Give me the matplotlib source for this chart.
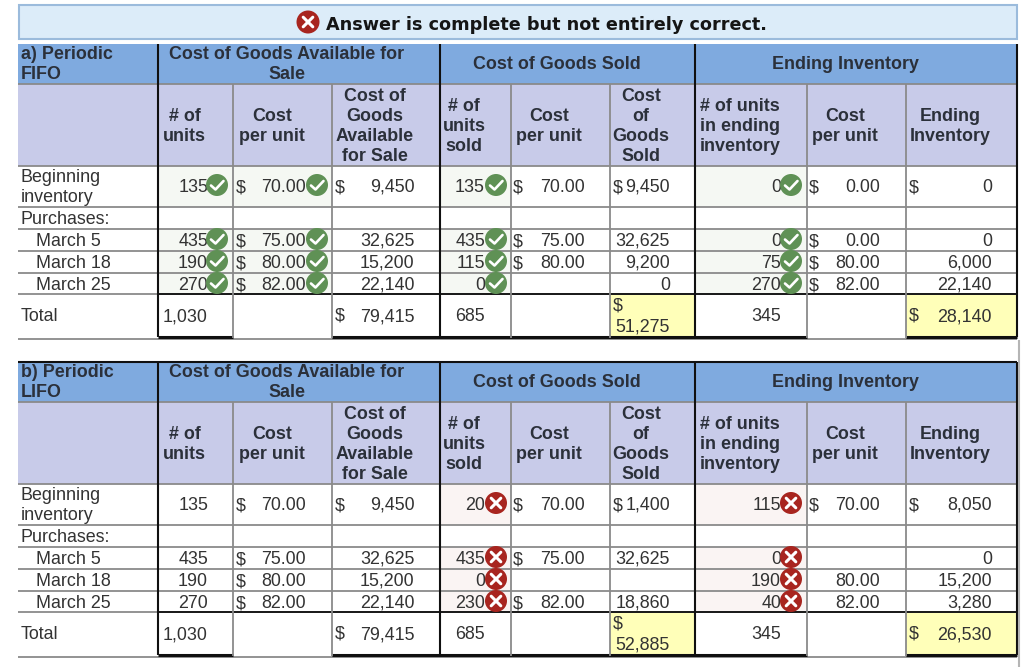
import matplotlib
matplotlib.use('Agg')
import matplotlib.pyplot as plt
from matplotlib.patches import Circle, Rectangle

plt.rcParams['font.family'] = ['Liberation Sans', 'DejaVu Sans']

# --- Data ---
banner_text = "Answer is complete but not entirely correct."
row_labels = ["Beginning\ninventory", "Purchases:", "March 5", "March 18", "March 25", "Total"]
group_heads = ["Cost of Goods Available for\nSale", "Cost of Goods Sold", "Ending Inventory"]
sub_heads = ["# of\nunits", "Cost\nper unit", "Cost of\nGoods\nAvailable\nfor Sale",
             "# of\nunits\nsold", "Cost\nper unit", "Cost\nof\nGoods\nSold",
             "# of units\nin ending\ninventory", "Cost\nper unit", "Ending\nInventory"]

units = ["135", "", "435", "190", "270", "1,030"]
cost_avail = ["$ 70.00", "", "$ 75.00", "$ 80.00", "$ 82.00", ""]
goods_avail = ["$ 9,450", "", "32,625", "15,200", "22,140", "$ 79,415"]

fifo_title = "a) Periodic\nFIFO"
fifo_sold = ["135", "", "435", "115", "0", "685"]
fifo_sold_cost = ["$ 70.00", "", "$ 75.00", "$ 80.00", "", ""]
fifo_cogs = ["$ 9,450", "", "32,625", "9,200", "0", "$\n51,275"]
fifo_end = ["0", "", "0", "75", "270", "345"]
fifo_end_cost = ["$ 0.00", "", "$ 0.00", "$ 80.00", "$ 82.00", ""]
fifo_end_inv = ["$ 0", "", "0", "6,000", "22,140", "$ 28,140"]

lifo_title = "b) Periodic\nLIFO"
lifo_sold = ["20", "", "435", "0", "230", "685"]
lifo_sold_cost = ["$ 70.00", "", "$ 75.00", "", "$ 82.00", ""]
lifo_cogs = ["$ 1,400", "", "32,625", "", "18,860", "$\n52,885"]
lifo_end = ["115", "", "0", "190", "40", "345"]
lifo_end_cost = ["$ 70.00", "", "", "80.00", "82.00", ""]
lifo_end_inv = ["$ 8,050", "", "0", "15,200", "3,280", "$ 26,530"]

# which rows of a column carry a check / cross icon
icon_rows = [0, 2, 3, 4]

# --- Layout (pixels of the screenshot) ---
col_x = [18, 158, 233, 332, 440, 511, 610, 695, 807, 906, 1017]
row_h = [44, 84, 166, 207, 229, 251, 273, 294, 337]
lifo_dy = 318
value_right = [208, 306, 414.5, 485, 585, 670, 781, 880, 992]
dollar_left = [None, 236, 335, None, 513, 613, None, 809, 909]
sub_x = [184.5, 272, 374.5, 464, 549, 641, 700, 845, 950]
group_x = [287, 557, 846]
row_text_y = [186, 218, 240, 262, 284, 315]

GREY = '#8a8a8a'
BLACK = '#101010'
TEXT = '#333333'
HEAD = '#2b303a'
BLUE = '#7faadf'
LILAC = '#c8cbe9'
YELLOW = '#ffffb9'
GREEN = '#5f9155'
GREEN_BG = '#f5f8f3'
RED = '#a8251f'
RED_BG = '#faf4f3'
FS = 12.9

fig = plt.figure(figsize=(10.24, 6.67), dpi=100)
ax = fig.add_axes([0, 0, 1, 1])
ax.set_xlim(0, 1024)
ax.set_ylim(667, 0)
ax.axis('off')


def put(x, y, s, ha='left', bold=False, color=TEXT, size=FS, zorder=5):
    # y is the middle of the first line, following lines step 20 px down
    for i, line in enumerate(s.split('\n')):
        ax.text(x, y + 6 + i * 20, line, ha=ha, va='baseline', fontsize=size, color=color,
                fontweight='bold' if bold else 'normal', zorder=zorder)


def fill(x0, x1, y0, y1, color):
    ax.add_patch(Rectangle((x0, y0), x1 - x0, y1 - y0, fc=color, ec='none', zorder=1))


def hline(x0, x1, y, color=GREY, lw=1.3):
    ax.plot([x0, x1], [y, y], color=color, lw=lw, zorder=3, solid_capstyle='butt')


def vline(x, y0, y1, color=GREY, lw=1.3):
    ax.plot([x, x], [y0, y1], color=color, lw=lw, zorder=3, solid_capstyle='butt')


def icon(x, y, ok, r=11):
    ax.add_patch(Circle((x, y), r, fc=GREEN if ok else RED, ec='none', zorder=6))
    if ok:
        ax.plot([x - 6, x - 1.5, x + 6.5], [y + 0.5, y + 4.5, y - 4],
                color='white', lw=1.9, zorder=7, solid_capstyle='round')
    else:
        for d in (1, -1):
            ax.plot([x - 4.8, x + 4.8], [y - 4.8 * d, y + 4.8 * d],
                    color='white', lw=2.2, zorder=7, solid_capstyle='round')


def cell(col, row, val, dy):
    y = row_text_y[row] + dy
    if val.startswith('$\n'):
        put(dollar_left[col], y - 10, '$')
        put(value_right[col], y + 10, val[2:], ha='right')
    elif val.startswith('$ '):
        put(dollar_left[col], y, '$')
        put(value_right[col], y, val[2:], ha='right')
    elif val:
        put(value_right[col], y, val, ha='right')


def draw_table(title, sold, sold_cost, cogs, end, end_cost, end_inv, dy, icons):
    r = [v + dy for v in row_h]
    # backgrounds
    fill(col_x[0], col_x[-1], r[0], r[1], BLUE)
    fill(col_x[0], col_x[-1], r[1], r[2], LILAC)
    fill(col_x[6], col_x[7], r[7], r[8], YELLOW)
    fill(col_x[9], col_x[10], r[7], r[8], YELLOW)

    # tinted answer cells
    bg = GREEN_BG if icons == 'ok' else RED_BG
    tint_cols = [(1, 2), (2, 3), (4, 5), (7, 8)] if icons == 'ok' else [(4, 5), (7, 8)]
    for a, b in tint_cols:
        fill(col_x[a], col_x[b], r[2], r[3], bg)
        fill(col_x[a], col_x[b], r[4], r[7], bg)

    # grid
    for y in r[1:8]:
        hline(col_x[0], col_x[-1], y)
    hline(col_x[1], col_x[-1], r[7], BLACK)
    hline(col_x[0], col_x[-1], r[8] + 1.5)
    for x0, x1 in [(col_x[1], col_x[2]), (col_x[3], col_x[8]), (col_x[9], col_x[10])]:
        hline(x0, x1, r[8], BLACK, lw=2.2)
    for i in [2, 3, 5, 6, 8, 9]:
        vline(col_x[i], r[1], r[8] + 1)
    for i in [1, 4, 7]:
        vline(col_x[i], r[0], r[8], BLACK, lw=1.5)
    vline(col_x[-1], r[0], r[8], BLACK, lw=1.5)
    if dy:
        hline(col_x[0], col_x[-1], r[0], BLACK, lw=1.5)

    # headers
    put(21, r[0] + 9, title, bold=True, color=HEAD)
    put(group_x[0], r[0] + 9, group_heads[0], ha='center', bold=True, color=HEAD)
    put(group_x[1], r[0] + 19, group_heads[1], ha='center', bold=True, color=HEAD)
    put(group_x[2], r[0] + 19, group_heads[2], ha='center', bold=True, color=HEAD)
    for i, s in enumerate(sub_heads):
        lines = s.count('\n') + 1
        y = (r[1] + r[2]) / 2 - 10 * (lines - 1)
        put(sub_x[i], y, s, ha='left' if i == 6 else 'center', bold=True, color=HEAD)

    # row labels
    for i, s in enumerate(row_labels):
        x = 36 if 2 <= i <= 4 else 21
        y = row_text_y[i] + dy - (10 if '\n' in s else 0)
        put(x, y, s)

    # values
    cols = [units, cost_avail, goods_avail, sold, sold_cost, cogs, end, end_cost, end_inv]
    for c, values in enumerate(cols):
        for i, v in enumerate(values):
            cell(c, i, v, dy)

    # icons
    if icons == 'ok':
        icon_cols = [217, 317, 496, 791]
    else:
        icon_cols = [496, 791]
    for x in icon_cols:
        for i in icon_rows:
            y = row_text_y[i] + dy - 1
            icon(x, y, icons == 'ok')


# banner
ax.add_patch(Rectangle((19, 5), 998, 34, fc='#dcecf9', ec='#9bbbdc', lw=1.5, zorder=1))
icon(308, 22, False, r=11.5)
ax.text(326, 29.5, banner_text, ha='left', va='baseline', fontsize=12.7, fontweight='bold',
        family='DejaVu Sans', color='#151515', zorder=5)

draw_table(fifo_title, fifo_sold, fifo_sold_cost, fifo_cogs, fifo_end, fifo_end_cost, fifo_end_inv, 0, 'ok')
draw_table(lifo_title, lifo_sold, lifo_sold_cost, lifo_cogs, lifo_end, lifo_end_cost, lifo_end_inv, lifo_dy, 'bad')

# screenshot edge on the right
vline(1018.5, 340, 667, '#b5b5b5', lw=1.5)

fig.savefig('out.png', dpi=100)
